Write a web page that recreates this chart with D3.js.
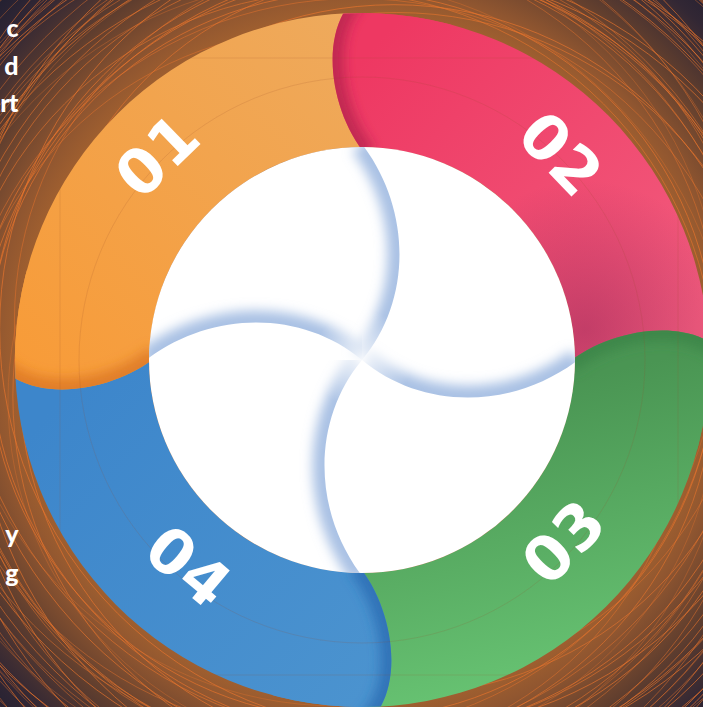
<!DOCTYPE html>
<html><head><meta charset="utf-8">
<script src="https://cdn.jsdelivr.net/npm/d3@7"></script>
<style>html,body{margin:0;padding:0;background:#1c1b2e;overflow:hidden}</style>
</head><body>
<svg id="c" width="703" height="707"></svg>
<script>
// ---- data ----
const labels = ["01", "02", "03", "04"];
const startDeg = [-90, 0, 90, 180];          // clockwise start of each segment (0 = 12 o'clock)
const spanDeg = [90, 90, 90, 90];
const colorA = ["#f89b37", "#ee3862", "#4a9553", "#3d86cb"];
const colorB = ["#eeaa5d", "#f25c7e", "#66c171", "#4b93cf"];
const capShade = ["#d9741f", "#b31f4c", "#3a8345", "#2a68b0"];
const bladeSide = [1, -1, -1, 1];             // side of each pinwheel edge that carries the blue shade
const labelDeg = [-45, 44, 132, 220];
const labelR = [289, 286, 272, 270];
const labelRot = [-44, 46, -46, 40];
const sideText = ["c", "d", "rt", "y", "g"];
const sideTextY = [37, 75, 112, 543, 582];

// ---- layout ----
const W = 703, H = 707, cx = 362, cy = 360, rIn = 213, rOut = 347;
const ang = d3.scaleLinear().domain([0, 360]).range([0, 2 * Math.PI]);
const svg = d3.select("#c");
const defs = svg.append("defs");

function P(i, r, v) {
  const a = ang(startDeg[i]);
  const ux = Math.sin(a), uy = -Math.cos(a), tx = Math.cos(a), ty = Math.sin(a);
  return [cx + r * ux + v * tx, cy + r * uy + v * ty];
}

// background gradient
const bg = defs.append("radialGradient").attr("id", "bg").attr("gradientUnits", "userSpaceOnUse")
  .attr("cx", cx).attr("cy", cy).attr("r", 530);
[[0.62, "#a9652f"], [0.7, "#905630"], [0.8, "#603e2e"], [0.9, "#322734"], [1, "#1b1c30"]]
  .forEach(([o, c]) => bg.append("stop").attr("offset", o).attr("stop-color", c));

// segment gradients (absolute and ring-local versions)
const gradPts = [[[15, 380], [360, 20]], [[380, 40], [690, 330]], [[575, 380], [640, 650]], [[60, 400], [370, 690]]];
labels.forEach((l, i) => {
  ["sg", "sl"].forEach(pre => {
    const g = defs.append("linearGradient").attr("id", pre + i).attr("gradientUnits", "userSpaceOnUse")
      .attr("x1", gradPts[i][0][0]).attr("y1", gradPts[i][0][1]).attr("x2", gradPts[i][1][0]).attr("y2", gradPts[i][1][1]);
    if (pre === "sl") g.attr("gradientTransform", `translate(${-cx},${-cy})`);
    g.append("stop").attr("offset", 0).attr("stop-color", colorA[i]);
    g.append("stop").attr("offset", 1).attr("stop-color", colorB[i]);
  });
});
const dk = defs.append("radialGradient").attr("id", "dk").attr("gradientUnits", "userSpaceOnUse")
  .attr("cx", 585).attr("cy", 330).attr("r", 150);
dk.append("stop").attr("offset", 0).attr("stop-color", "#8a1f52").attr("stop-opacity", 0.45);
dk.append("stop").attr("offset", 1).attr("stop-color", "#8a1f52").attr("stop-opacity", 0);
const cf = defs.append("radialGradient").attr("id", "cf").attr("gradientUnits", "userSpaceOnUse")
  .attr("cx", cx).attr("cy", cy).attr("r", 50);
cf.append("stop").attr("offset", 0).attr("stop-color", "#ffffff").attr("stop-opacity", 0.85);
cf.append("stop").attr("offset", 1).attr("stop-color", "#ffffff").attr("stop-opacity", 0);

defs.append("filter").attr("id", "blur6").attr("filterUnits", "userSpaceOnUse")
  .attr("x", 0).attr("y", 0).attr("width", W).attr("height", H)
  .append("feGaussianBlur").attr("stdDeviation", 6);

const ringArc = d3.arc().innerRadius(rIn).outerRadius(rOut).startAngle(0).endAngle(2 * Math.PI);
defs.append("clipPath").attr("id", "ring").append("path").attr("transform", `translate(${cx},${cy})`).attr("d", ringArc());
defs.append("clipPath").attr("id", "inner").append("circle").attr("cx", cx).attr("cy", cy).attr("r", rIn);

// background
svg.append("rect").attr("width", W).attr("height", H).attr("fill", "url(#bg)");
const lines = svg.append("g").attr("fill", "none").attr("stroke", "#e8742c");
for (let k = 0; k < 72; k++) {
  const r = 354 + k * 4 + 3 * Math.sin(k * 1.3);
  const ox = 40 * Math.sin(k * 1.7), oy = 40 * Math.cos(k * 2.3);
  lines.append("circle").attr("cx", cx + ox).attr("cy", cy + oy).attr("r", r)
    .attr("stroke-width", 0.85).attr("stroke-opacity", 0.4 + 0.4 * Math.abs(Math.sin(k * 0.9)));
}

// sectors
const arc = d3.arc().innerRadius(rIn).outerRadius(rOut);
const sectors = svg.append("g").attr("transform", `translate(${cx},${cy})`);
labels.forEach((l, i) => {
  sectors.append("path").attr("d", arc({startAngle: ang(startDeg[i]), endAngle: ang(startDeg[i] + spanDeg[i]) + 0.01}))
    .attr("fill", `url(#sl${i})`);
});
svg.append("g").attr("clip-path", "url(#ring)").append("rect")
  .attr("x", 362).attr("y", 150).attr("width", 350).attr("height", 215).attr("fill", "url(#dk)");

// caps
const capsG = svg.append("g").attr("clip-path", "url(#ring)");
function capCurve(i, p) {
  p.moveTo(...P(i, 205, 4));
  p.bezierCurveTo(...P(i, 248, -32), ...P(i, 330, -45), ...P(i, 365, -4));
  return p;
}
labels.forEach((l, i) => {
  const p = capCurve(i, d3.path());
  p.lineTo(...P(i, 365, 90)); p.lineTo(...P(i, 200, 90)); p.lineTo(...P(i, 200, 4)); p.closePath();
  defs.append("clipPath").attr("id", "cap" + i).append("path").attr("d", p.toString());
  capsG.append("path").attr("d", p.toString()).attr("fill", `url(#sg${i})`);
  capsG.append("g").attr("clip-path", `url(#cap${i})`).append("path")
    .attr("d", capCurve(i, d3.path()).toString()).attr("fill", "none")
    .attr("stroke", capShade[i]).attr("stroke-width", 22).attr("stroke-opacity", 0.75).attr("filter", "url(#blur6)");
});

// faint guide lines inside ring
const guides = svg.append("g").attr("clip-path", "url(#ring)").attr("fill", "none")
  .attr("stroke", "#9a4a2a").attr("stroke-opacity", 0.2).attr("stroke-width", 0.8);
guides.append("circle").attr("cx", cx).attr("cy", cy).attr("r", 283);
guides.append("line").attr("x1", 60).attr("x2", 60).attr("y1", 0).attr("y2", H);
guides.append("line").attr("x1", 678).attr("x2", 678).attr("y1", 0).attr("y2", H);
guides.append("line").attr("x1", 0).attr("x2", W).attr("y1", 58).attr("y2", 58);
guides.append("line").attr("x1", 0).attr("x2", W).attr("y1", 675).attr("y2", 675);

// inner white circle with pinwheel shading
svg.append("circle").attr("cx", cx).attr("cy", cy).attr("r", rIn).attr("fill", "#ffffff");
const inner = svg.append("g").attr("clip-path", "url(#inner)");
function bladeCurve(i, p) {
  p.moveTo(...P(i, 216, 0));
  p.bezierCurveTo(...P(i, 150, 50), ...P(i, 60, 50), ...P(i, 0, 0));
  return p;
}
labels.forEach((l, i) => {
  const s = bladeSide[i];
  const p = bladeCurve(i, d3.path());
  p.lineTo(...P(i, 0, 260 * s)); p.lineTo(...P(i, 260, 260 * s)); p.lineTo(...P(i, 260, 0)); p.closePath();
  defs.append("clipPath").attr("id", "blade" + i).append("path").attr("d", p.toString());
  inner.append("g").attr("clip-path", `url(#blade${i})`).append("path")
    .attr("d", bladeCurve(i, d3.path()).toString()).attr("fill", "none")
    .attr("stroke", "#93b2dd").attr("stroke-width", 24).attr("stroke-opacity", 0.8).attr("filter", "url(#blur6)");
});
inner.append("circle").attr("cx", cx).attr("cy", cy).attr("r", 50).attr("fill", "url(#cf)");

// labels
svg.append("g").selectAll("text").data(labels).join("text")
  .attr("transform", (d, i) => {
    const [x, y] = [cx + labelR[i] * Math.sin(ang(labelDeg[i])), cy - labelR[i] * Math.cos(ang(labelDeg[i]))];
    return `translate(${x},${y}) rotate(${labelRot[i]})`;
  })
  .attr("text-anchor", "middle").attr("dominant-baseline", "central")
  .attr("font-family", "'DejaVu Sans', sans-serif").attr("font-weight", "bold")
  .attr("font-size", 62).attr("fill", "#ffffff").attr("letter-spacing", 1)
  .text(d => d);

// cut-off side text
svg.append("g").selectAll("text").data(sideText).join("text")
  .attr("x", 18).attr("y", (d, i) => sideTextY[i]).attr("text-anchor", "end")
  .attr("font-family", "Lato, sans-serif").attr("font-weight", 900).attr("font-size", 25)
  .attr("letter-spacing", -0.5).attr("fill", "#ffffff").text(d => d);
</script>
</body></html>
